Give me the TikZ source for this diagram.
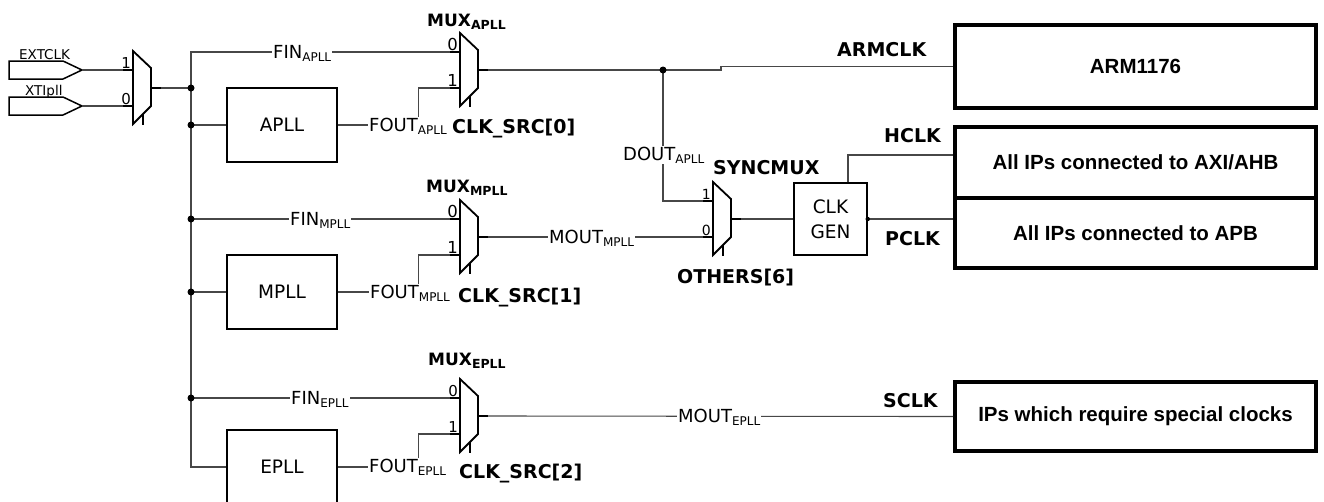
\documentclass[tikz,border=0pt]{standalone}
\usepackage{fontspec}
\setmainfont{DejaVu Sans}
\newfontfamily\arialfont{Liberation Sans}
\newcommand\fs[1]{\fontsize{#1}{#1}\selectfont}
\newcommand\sbs[1]{\raisebox{-3pt}{\fs{12}#1}}
\newcommand\bsbs[1]{\raisebox{-3pt}{\fs{12.5}\bfseries #1}}
\newcommand\drawmux[3]{%
  \draw[muxl] (#2,#3) -- ++(18,17) -- ++(0,38) -- ++(-18,18) -- cycle;
  \draw[muxl] (#2+10,#3+63) -- (#2+10,#3+74);
  \coordinate (#1-a) at (#2,#3+19);
  \coordinate (#1-b) at (#2,#3+55);
  \coordinate (#1-o) at (#2+18,#3+37);
  \coordinate (#1-q) at (#2+28,#3+37);
}
\newcommand\muxpins[4]{%
  \draw[pinl] (#1-a) -- ++(-10,0);
  \draw[pinl] (#1-b) -- ++(-10,0);
  \draw[pinl] (#1-o) -- (#1-q);
  \node[pinn, font=\fs{#4}] (#1-la) at ([shift={(-2,-2)}]#1-a) {#2};
  \node[pinn, font=\fs{#4}] (#1-lb) at ([shift={(-2,-2)}]#1-b) {#3};
}
\begin{document}
\begin{tikzpicture}[x=1pt,y=-1pt,
  wire/.style={draw=black!72, line width=1.1pt},
  muxl/.style={draw=black, line width=1.8pt, line join=miter},
  pinl/.style={draw=black, line width=1.5pt},
  shapel/.style={draw=black, line width=1.5pt},
  pll/.style={draw=black, line width=1.4pt, minimum width=110pt, minimum height=74pt, inner sep=0pt, font=\fs{18.5}},
  ipbox/.style={draw=black, line width=4pt, minimum width=361pt, inner sep=0pt, font=\arialfont\bfseries\fs{20.5}},
  lbl/.style={fill=white, inner sep=1pt, anchor=base west, font=\fs{18}},
  blbl/.style={inner sep=0pt, anchor=base west, font=\bfseries\fs{19}},
  mlbl/.style={inner sep=0pt, anchor=base west, font=\bfseries\fs{17}},
  pinn/.style={inner sep=0pt, anchor=base east},
  inl/.style={inner sep=0pt, anchor=base west, font=\fs{13.5}}
]
\useasboundingbox (0,0) rectangle (1324,501);

% input pads
\draw[shapel] (9,61) -- (63,61) -- (82,70) -- (63,79) -- (9,79) -- cycle;
\coordinate (ext) at (82,70);
\node[inl] (extl) at (19,59) {EXTCLK};
\draw[shapel] (9,97) -- (63,97) -- (82,106) -- (63,115) -- (9,115) -- cycle;
\coordinate (xti) at (82,106);
\node[inl] (xtil) at (25,95) {XTIpll};

% muxes
\drawmux{m0}{133}{51}
\drawmux{mA}{460}{33}
\drawmux{mM}{460}{200}
\drawmux{mE}{460}{379}
\drawmux{sy}{713}{182}

% boxes
\node[pll] (apll) at (282,125) {APLL};
\node[pll] (mpll) at (282,292) {MPLL};
\node[pll] (epll) at (282,467) {EPLL};
\node[draw, line width=1.4pt, minimum width=73pt, minimum height=72pt, align=center, inner sep=0pt, font=\fontsize{18.5}{25}\selectfont] (clkgen) at (830.5,219) {CLK\\GEN};
\node[ipbox, minimum height=83pt] (arm) at (1135.5,66.5) {ARM1176};
\node[ipbox, minimum height=71pt] (axi) at (1135.5,162.5) {All IPs connected to AXI/AHB};
\node[ipbox, minimum height=70pt] (apb) at (1135.5,233) {All IPs connected to APB};
\node[ipbox, minimum height=69pt] (special) at (1135.5,416.5) {IPs which require special clocks};

% junctions
\coordinate (j1) at (191,88);
\coordinate (j2) at (191,125);
\coordinate (j3) at (191,219);
\coordinate (j4) at (191,292);
\coordinate (j5) at (191,398);
\coordinate (jd) at (663,70);

% wires
\draw[wire] (ext) -- (m0-a);
\draw[wire] (xti) -- (m0-b);
\draw[wire] (m0-q) -- (j1);
\draw[wire] (mA-a) -- (191,52) -- (191,467) -- (epll.west);
\draw[wire] (j2) -- (apll.west);
\draw[wire] (j3) -- (mM-a);
\draw[wire] (j4) -- (mpll.west);
\draw[wire] (j5) -- (mE-a);
\draw[wire] (apll.east) -- ++(81,0) |- (mA-b);
\draw[wire] (mpll.east) -- ++(81,0) |- (mM-b);
\draw[wire] (epll.east) -- ++(81,0) |- (mE-b);
\draw[wire] (mA-q) -- (721,70) |- (arm.west);
\draw[wire] (jd) |- (sy-a);
\draw[wire] (mM-q) -- (sy-b);
\draw[wire] (sy-q) -- (clkgen.west);
\draw[wire] ([xshift=17.5pt]clkgen.north) |- ([yshift=7.5pt]axi.west);
\draw[wire] (clkgen.east) -- (clkgen.east -| apb.west);
\draw[wire] (mE-q) -- (special.west);

\foreach \j in {j1,j2,j3,j4,j5,jd} \fill (\j) circle (3.5pt);
\fill (clkgen.east) circle (2.2pt);

% pins
\muxpins{m0}{1}{0}{15}
\muxpins{mA}{0}{1}{16.5}
\muxpins{mM}{0}{1}{16.5}
\muxpins{mE}{0}{1}{15}
\muxpins{sy}{1}{0}{14}

% wire labels
\node[lbl] (finA) at (272,58) {FIN\sbs{APLL}};
\node[lbl] (foutA) at (368,131) {FOUT\sbs{APLL}};
\node[lbl] (finM) at (289,225) {FIN\sbs{MPLL}};
\node[lbl] (foutM) at (369,298) {FOUT\sbs{MPLL}};
\node[lbl] (finE) at (290,404) {FIN\sbs{EPLL}};
\node[lbl] (foutE) at (368,472) {FOUT\sbs{EPLL}};
\node[lbl] (moutM) at (548,243) {MOUT\sbs{MPLL}};
\node[lbl] (moutE) at (677,422) {MOUT\sbs{EPLL}};
\node[lbl] (dout) at (622,160) {DOUT\sbs{APLL}};

% bold labels
\node[mlbl] (muxAl) at (427,26) {MUX\bsbs{APLL}};
\node[mlbl] (muxMl) at (426,192) {MUX\bsbs{MPLL}};
\node[mlbl] (muxEl) at (428,365) {MUX\bsbs{EPLL}};
\node[blbl] (src0) at (452,133) {CLK\_SRC[0]};
\node[blbl] (src1) at (458,302) {CLK\_SRC[1]};
\node[blbl] (src2) at (459,478) {CLK\_SRC[2]};
\node[blbl] (syl) at (713,174) {SYNCMUX};
\node[blbl] (oth) at (677,283) {OTHERS[6]};
\node[blbl] (armclk) at (837,56) {ARMCLK};
\node[blbl] (hclk) at (884,142) {HCLK};
\node[blbl] (pclk) at (885,245) {PCLK};
\node[blbl] (sclk) at (883,407) {SCLK};
\end{tikzpicture}
\end{document}
